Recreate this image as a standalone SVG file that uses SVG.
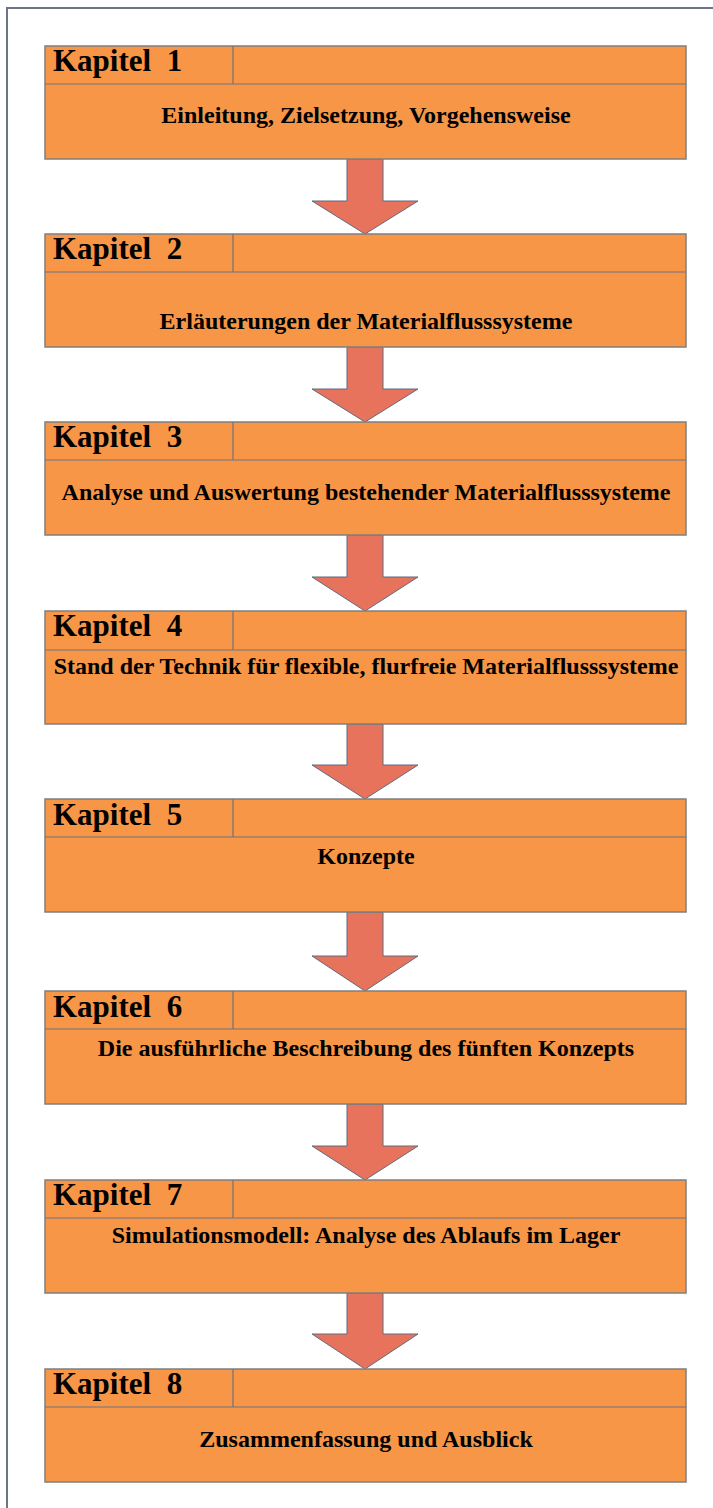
<svg xmlns="http://www.w3.org/2000/svg" width="713" height="1508" viewBox="0 0 713 1508">
<style>
.box{fill:#F79646;stroke:#7f7f7f;stroke-width:1.5}
.div{stroke:#6f7380;stroke-width:1.2;fill:none}
.kap{font-family:"Liberation Serif",serif;font-weight:bold;font-size:31px;fill:#000;white-space:pre}
.sub{font-family:"Liberation Serif",serif;font-weight:bold;font-size:24px;fill:#000;text-anchor:middle}
.arr{fill:#E8735C;stroke:#5f6b80;stroke-width:1}
</style>
<rect x="7" y="8" width="720" height="1520" fill="#fff" stroke="#6e7387" stroke-width="2"/>
<g id="connectors">
<polygon class="arr" points="347,159 383,159 383,201 418,201 365,234 312,201 347,201"/>
<polygon class="arr" points="347,347 383,347 383,389 418,389 365,422 312,389 347,389"/>
<polygon class="arr" points="347,535 383,535 383,577 418,577 365,611 312,577 347,577"/>
<polygon class="arr" points="347,724 383,724 383,765 418,765 365,799 312,765 347,765"/>
<polygon class="arr" points="347,912 383,912 383,956 418,956 365,991 312,956 347,956"/>
<polygon class="arr" points="347,1104 383,1104 383,1146 418,1146 365,1180 312,1146 347,1146"/>
<polygon class="arr" points="347,1293 383,1293 383,1334 418,1334 365,1369 312,1334 347,1334"/>
</g>
<g id="k1">
<rect class="box" x="45" y="46" width="641" height="113"/>
<path class="div" d="M45,84H686M233,46V84"/>
<text class="kap" x="53" y="71">Kapitel  1</text>
<text class="sub" x="366" y="123">Einleitung, Zielsetzung, Vorgehensweise</text>
</g>
<g id="k2">
<rect class="box" x="45" y="234" width="641" height="113"/>
<path class="div" d="M45,272H686M233,234V272"/>
<text class="kap" x="53" y="259">Kapitel  2</text>
<text class="sub" x="366" y="329">Erläuterungen der Materialflusssysteme</text>
</g>
<g id="k3">
<rect class="box" x="45" y="422" width="641" height="113"/>
<path class="div" d="M45,460H686M233,422V460"/>
<text class="kap" x="53" y="447">Kapitel  3</text>
<text class="sub" x="366" y="500">Analyse und Auswertung bestehender Materialflusssysteme</text>
</g>
<g id="k4">
<rect class="box" x="45" y="611" width="641" height="113"/>
<path class="div" d="M45,650H686M233,611V650"/>
<text class="kap" x="53" y="636">Kapitel  4</text>
<text class="sub" x="366" y="674">Stand der Technik für flexible, flurfreie Materialflusssysteme</text>
</g>
<g id="k5">
<rect class="box" x="45" y="799" width="641" height="113"/>
<path class="div" d="M45,837H686M233,799V837"/>
<text class="kap" x="53" y="825">Kapitel  5</text>
<text class="sub" x="366" y="864">Konzepte</text>
</g>
<g id="k6">
<rect class="box" x="45" y="991" width="641" height="113"/>
<path class="div" d="M45,1029H686M233,991V1029"/>
<text class="kap" x="53" y="1017">Kapitel  6</text>
<text class="sub" x="366" y="1056">Die ausführliche Beschreibung des fünften Konzepts</text>
</g>
<g id="k7">
<rect class="box" x="45" y="1180" width="641" height="113"/>
<path class="div" d="M45,1218H686M233,1180V1218"/>
<text class="kap" x="53" y="1205">Kapitel  7</text>
<text class="sub" x="366" y="1243">Simulationsmodell: Analyse des Ablaufs im Lager</text>
</g>
<g id="k8">
<rect class="box" x="45" y="1369" width="641" height="113"/>
<path class="div" d="M45,1407H686M233,1369V1407"/>
<text class="kap" x="53" y="1394">Kapitel  8</text>
<text class="sub" x="366" y="1447">Zusammenfassung und Ausblick</text>
</g>
</svg>
